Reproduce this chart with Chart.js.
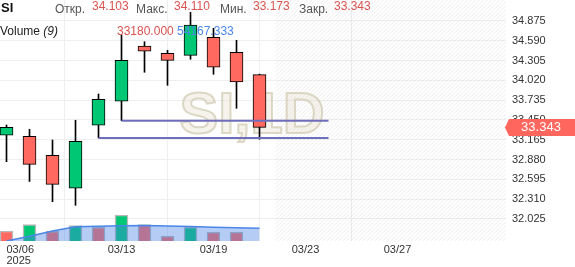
<!DOCTYPE html>
<html lang="ru">
<head>
<meta charset="UTF-8">
<title>SI 1D</title>
<script src="https://cdn.jsdelivr.net/npm/chart.js"></script>
<style>
  body { margin: 0; background: #fff; }
  canvas { display: block; }
</style>
</head>
<body>
<canvas id="grafico" width="575" height="267"></canvas>
<script>
// datos
const simbolo = 'SI';
const fechas = ['03/06', '03/07', '03/10', '03/11', '03/12', '03/13', '03/14', '03/17', '03/18', '03/19', '03/20', '03/21'];
const aperturas = [33.230, 33.215, 32.942, 32.467, 33.374, 33.719, 34.515, 34.410, 34.381, 34.640, 34.424, 34.103];
const maximos = [33.378, 33.316, 33.162, 33.446, 33.824, 34.673, 34.577, 34.453, 35.000, 34.770, 34.597, 34.110];
const minimos = [32.850, 32.565, 32.274, 32.222, 33.191, 33.440, 34.137, 33.949, 34.324, 34.108, 33.618, 33.173];
const cierres = [33.345, 32.812, 32.524, 33.143, 33.748, 34.309, 34.439, 34.309, 34.817, 34.209, 33.997, 33.343];
const volumenes = [42600, 69900, 41400, 65700, 58400, 110900, 69900, 21300, 59700, 38400, 38400, null];
const volumenSube = [false, true, false, true, false, true, false, false, true, false, false, false];
const volumenMedia = [0, 20000, 42600, 60500, 62700, 64800, 65700, 64400, 61400, 58400, 56300, 54167.333];
const niveles = [
  { desde: 5, hasta: 14, precio: 33.440 },
  { desde: 4, hasta: 14, precio: 33.191 }
];
const ticksX = [0, 5, 9, 13, 17, 21];
const etiquetasX = [['03/06', '2025'], '03/13', '03/19', '03/23', '03/27', ''];
const ticksY = [32.025, 32.310, 32.595, 32.880, 33.165, 33.450, 33.735, 34.020, 34.305, 34.590, 34.875];
const volumenUltimo = '33180.000';
const volumenMediaTexto = '54167.333';

const VERDE = '#00c774';
const ROJO = '#ff6960';
const FUENTE = "'Liberation Sans', Arial, sans-serif";

const ultimo = fechas.length - 1;

// rayado del futuro + marca de agua
const fondo = {
  id: 'fondo',
  beforeDatasetsDraw(chart) {
    const { ctx, chartArea, scales } = chart;
    const x0 = scales.x.getPixelForValue(ultimo + 0.7);
    const x1 = chartArea.right;
    const top = chartArea.top, bottom = chartArea.bottom;
    ctx.save();
    ctx.beginPath();
    ctx.rect(x0, top, x1 - x0, bottom - top);
    ctx.clip();
    ctx.strokeStyle = 'rgba(0,0,0,0.075)';
    ctx.lineWidth = 1;
    const h = bottom - top;
    ctx.beginPath();
    for (let k = x0 - h; k < x1; k += 4) {
      ctx.moveTo(k, bottom);
      ctx.lineTo(k + h, top);
    }
    ctx.stroke();
    ctx.restore();

    ctx.save();
    ctx.font = 'bold 58px ' + FUENTE;
    ctx.textAlign = 'center';
    ctx.textBaseline = 'alphabetic';
    ctx.fillStyle = 'rgba(225,220,200,0.35)';
    ctx.strokeStyle = 'rgba(205,198,172,0.65)';
    ctx.lineWidth = 2;
    ctx.fillText(simbolo + ',1D', 252, 133);
    ctx.strokeText(simbolo + ',1D', 252, 133);
    ctx.restore();
  }
};

// cabecera y etiqueta de precio
const encima = {
  id: 'encima',
  afterDraw(chart) {
    const { ctx, chartArea, scales } = chart;
    ctx.save();
    ctx.textBaseline = 'alphabetic';
    ctx.textAlign = 'left';

    ctx.font = 'bold 13px ' + FUENTE;
    ctx.fillStyle = '#111';
    ctx.fillText(simbolo, 1, 12);

    const campos = [
      ['Откр.', aperturas[ultimo], 55, 92],
      ['Макс.', maximos[ultimo], 136, 174],
      ['Мин.', minimos[ultimo], 220, 253],
      ['Закр.', cierres[ultimo], 299, 334]
    ];
    campos.forEach(([nombre, valor, xn, xv]) => {
      ctx.font = '12px ' + FUENTE;
      ctx.fillStyle = '#555';
      ctx.fillText(nombre, xn, 12.5);
      ctx.fillStyle = '#d9534f';
      ctx.fillText(valor.toFixed(3), xv, 10);
    });

    ctx.font = '12px ' + FUENTE;
    ctx.fillStyle = '#222';
    ctx.fillText('Volume ', 0, 34.5);
    const w = ctx.measureText('Volume ').width;
    ctx.font = 'italic 12px ' + FUENTE;
    ctx.fillText('(9)', w, 34.5);
    ctx.font = '12px ' + FUENTE;
    ctx.fillStyle = '#d9534f';
    ctx.fillText(volumenUltimo, 117, 34.5);
    ctx.fillStyle = '#4a86e8';
    ctx.fillText(volumenMediaTexto, 177, 34.5);

    // etiqueta del último precio
    const yp = scales.y.getPixelForValue(cierres[ultimo]);
    const xa = chartArea.right;
    ctx.fillStyle = '#ff665e';
    ctx.beginPath();
    ctx.moveTo(xa - 1, yp);
    ctx.lineTo(xa + 3, yp - 8.5);
    ctx.lineTo(chart.width, yp - 8.5);
    ctx.lineTo(chart.width, yp + 8.5);
    ctx.lineTo(xa + 3, yp + 8.5);
    ctx.closePath();
    ctx.fill();
    ctx.fillStyle = '#fff';
    ctx.font = '13px ' + FUENTE;
    ctx.textAlign = 'center';
    ctx.textBaseline = 'middle';
    ctx.fillText(cierres[ultimo].toFixed(3), 541, yp + 0.5);
    ctx.restore();
  }
};

const puntos = arr => arr.map((v, i) => ({ x: i, y: v }));

const sinPadding = s => {
  s.paddingTop = 0;
  s.paddingBottom = 0;
  s.paddingLeft = 0;
  s.paddingRight = 0;
};

const datasets = [];
niveles.forEach(n => {
  datasets.push({
    type: 'line',
    data: [{ x: n.desde, y: n.precio }, { x: n.hasta, y: n.precio }],
    borderColor: '#6e6ebd',
    borderWidth: 2,
    pointRadius: 0,
    yAxisID: 'y',
    order: 0
  });
});
datasets.push({
  type: 'line',
  data: puntos(volumenMedia),
  yAxisID: 'yv',
  fill: 'origin',
  backgroundColor: 'rgba(70,130,230,0.4)',
  borderColor: '#4a86e8',
  borderWidth: 1.5,
  pointRadius: 0,
  tension: 0,
  order: 1
});
datasets.push({
  type: 'bar',
  data: puntos(volumenes),
  yAxisID: 'yv',
  backgroundColor: volumenSube.map(s => s ? VERDE : ROJO),
  borderColor: '#b8b8b8',
  borderWidth: 1.5,
  barThickness: 13,
  grouped: false,
  order: 2
});
datasets.push({
  type: 'bar',
  data: aperturas.map((o, i) => ({ x: i, y: [o, cierres[i]] })),
  yAxisID: 'y',
  backgroundColor: aperturas.map((o, i) => cierres[i] >= o ? VERDE : ROJO),
  borderColor: '#000',
  borderWidth: 1,
  borderSkipped: false,
  barThickness: 13,
  grouped: false,
  order: 3
});
datasets.push({
  type: 'bar',
  data: minimos.map((l, i) => ({ x: i, y: [l, maximos[i]] })),
  yAxisID: 'y',
  backgroundColor: '#000',
  borderWidth: 0,
  barThickness: 1,
  grouped: false,
  order: 4
});

new Chart(document.getElementById('grafico'), {
  type: 'bar',
  data: { datasets },
  options: {
    responsive: false,
    animation: false,
    events: [],
    layout: { padding: 0 },
    plugins: { legend: { display: false }, tooltip: { enabled: false } },
    scales: {
      x: {
        type: 'linear',
        min: -0.2826,
        max: 21.717,
        offset: false,
        afterBuildTicks: s => { s.ticks = ticksX.map(v => ({ value: v })); },
        afterFit: s => { s.height = 26; sinPadding(s); },
        border: { display: false },
        grid: {
          color: c => (c.tick && etiquetasX[ticksX.indexOf(c.tick.value)] === '') ? 'rgba(0,0,0,0)' : '#efefef',
          drawTicks: false
        },
        ticks: {
          autoSkip: false,
          maxRotation: 0,
          align: 'inner',
          padding: 4,
          color: '#333',
          font: { family: FUENTE, size: 11, lineHeight: 0.95 },
          callback: v => etiquetasX[ticksX.indexOf(v)]
        }
      },
      y: {
        position: 'right',
        min: 31.708,
        max: 35.177,
        afterBuildTicks: s => { s.ticks = ticksY.map(v => ({ value: v })); },
        afterFit: s => { s.width = 69; sinPadding(s); },
        border: { display: false },
        grid: { color: '#efefef', drawTicks: false },
        ticks: {
          padding: 6,
          color: '#333',
          font: { family: FUENTE, size: 11 },
          callback: v => Number(v).toFixed(3)
        }
      },
      yv: {
        display: false,
        min: 0,
        max: 1028000
      }
    }
  },
  plugins: [fondo, encima]
});
</script>
</body>
</html>
